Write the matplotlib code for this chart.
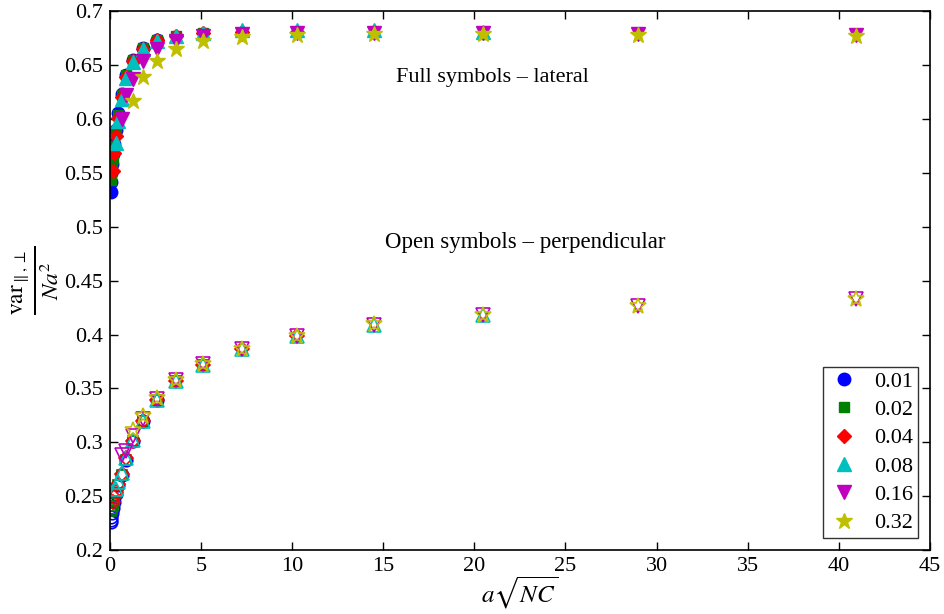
import matplotlib
matplotlib.use('Agg')
import matplotlib.pyplot as plt
import numpy as np

plt.rcParams['font.family'] = ['Liberation Serif', 'DejaVu Serif']
plt.rcParams['mathtext.fontset'] = 'stix'

# series labels (a) and sqrt(NC) grid shared by all series
a_values = [0.01, 0.02, 0.04, 0.08, 0.16, 0.32]
sqrt_nc = [4, 5.657, 8, 11.31, 16, 22.63, 32, 45.25, 64, 90.51, 128, 181.0, 256]

# lateral (full symbols)
lat_001 = [0.532, 0.541, 0.550, 0.558, 0.567, 0.577, 0.590, 0.605, 0.623, 0.641, 0.655, 0.666, 0.673]
lat_002 = [0.543, 0.554, 0.564, 0.575, 0.588, 0.604, 0.622, 0.641, 0.655, 0.666, 0.673, 0.677, 0.680]
lat_004 = [0.552, 0.568, 0.584, 0.601, 0.620, 0.639, 0.654, 0.665, 0.673, 0.677, 0.680, 0.681, 0.681]
lat_008 = [0.578, 0.598, 0.618, 0.638, 0.653, 0.665, 0.672, 0.677, 0.680, 0.682, 0.682, 0.682, 0.681]
lat_016 = [0.600, 0.622, 0.637, 0.654, 0.665, 0.672, 0.677, 0.679, 0.680, 0.680, 0.680, 0.679, 0.678]
lat_032 = [0.617, 0.639, 0.654, 0.665, 0.672, 0.676, 0.678, 0.679, 0.679, 0.678, 0.677]

# perpendicular (open symbols)
perp_001 = [0.226, 0.228, 0.231, 0.234, 0.239, 0.245, 0.252, 0.260, 0.270, 0.284, 0.301, 0.320, 0.339]
perp_002 = [0.236, 0.238, 0.241, 0.246, 0.253, 0.260, 0.270, 0.284, 0.301, 0.320, 0.339, 0.357, 0.372]
perp_004 = [0.245, 0.249, 0.254, 0.261, 0.271, 0.285, 0.301, 0.320, 0.339, 0.357, 0.372, 0.387, 0.399]
perp_008 = [0.257, 0.263, 0.272, 0.285, 0.302, 0.320, 0.339, 0.357, 0.372, 0.387, 0.399, 0.409, 0.418]
perp_016 = [0.288, 0.292, 0.306, 0.322, 0.340, 0.358, 0.373, 0.387, 0.399, 0.409, 0.418, 0.426, 0.433]
perp_032 = [0.311, 0.324, 0.341, 0.358, 0.373, 0.387, 0.399, 0.410, 0.418, 0.426, 0.433]

lateral = [lat_001, lat_002, lat_004, lat_008, lat_016, lat_032]
perpendicular = [perp_001, perp_002, perp_004, perp_008, perp_016, perp_032]

x_ticks = [0, 5, 10, 15, 20, 25, 30, 35, 40, 45]
y_ticks = [0.2, 0.25, 0.3, 0.35, 0.4, 0.45, 0.5, 0.55, 0.6, 0.65, 0.7]
y_tick_labels = ['0.2', '0.25', '0.3', '0.35', '0.4', '0.45', '0.5', '0.55', '0.6', '0.65', '0.7']

colors = ['#0000ff', '#008000', '#ff0000', '#00bfbf', '#bf00bf', '#bfbf00']
markers = ['o', 's', 'D', '^', 'v', '*']
sizes = [9, 7.5, 7.5, 10, 10, 12]

fig = plt.figure(figsize=(9.44, 6.14), dpi=100)
ax = fig.add_axes([0.1165, 0.104, 0.8685, 0.878])

for i, a in enumerate(a_values):
    n = len(lateral[i])
    x = np.array(sqrt_nc[:n]) * a
    ax.plot(x, lateral[i], linestyle='none', marker=markers[i],
            markersize=sizes[i], color=colors[i], markeredgecolor=colors[i],
            label=f'{a:g}')
    ax.plot(x, perpendicular[i], linestyle='none', marker=markers[i],
            markersize=sizes[i], markerfacecolor='none',
            markeredgecolor=colors[i], markeredgewidth=1.2)

ax.set_xlim(0, 45)
ax.set_ylim(0.2, 0.7)
ax.set_xticks(x_ticks)
ax.set_yticks(y_ticks)
ax.set_yticklabels(y_tick_labels)
ax.tick_params(direction='in', length=6, width=1, top=True, right=True,
               labelsize=16, pad=5)
for sp in ax.spines.values():
    sp.set_linewidth(1.2)

ax.set_xlabel(r'$a\sqrt{NC}$', fontsize=18, labelpad=-1)
ax.set_ylabel(r'$\frac{\mathrm{var}_{\parallel,\perp}}{Na^2}$', fontsize=24,
              labelpad=2)

ax.text(15.7, 0.638, 'Full symbols \u2013 lateral', fontsize=16,
        va='center', ha='left')
ax.text(15.1, 0.485, 'Open symbols \u2013 perpendicular', fontsize=16.5,
        va='center', ha='left')

leg = ax.legend(loc='lower right', fontsize=16, frameon=True, fancybox=False,
                edgecolor='black', handletextpad=0.6, borderpad=0.2,
                labelspacing=0.35, handlelength=1.5, borderaxespad=0.55)
leg.get_frame().set_linewidth(1.0)

fig.savefig('out.png', dpi=100)
